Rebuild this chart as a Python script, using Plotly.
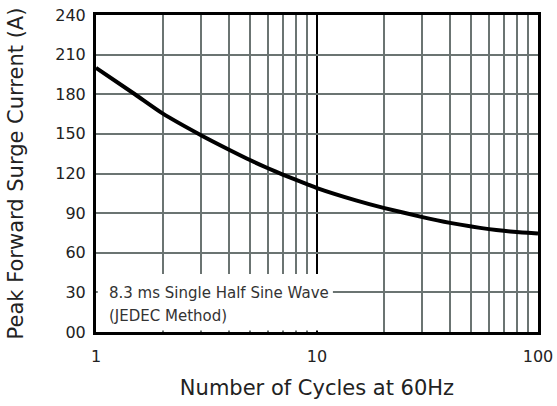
import plotly.graph_objects as go

# Data
cycles = [1, 1.5, 2, 3, 4, 5, 6, 7, 8, 9, 10, 15, 20, 30, 40, 50, 60, 70, 80, 90, 100]
current = [200, 180, 165.5, 148.8, 138, 130, 124, 119.2, 115.3, 112, 109, 99.7, 94,
           87, 82.6, 79.8, 77.9, 76.6, 75.7, 75.1, 74.6]

x_tickvals = [1, 10, 100]
x_ticktext = ["1", "10", "100"]
x_minor = [2, 3, 4, 5, 6, 7, 8, 9, 20, 30, 40, 50, 60, 70, 80, 90]
y_tickvals = [0, 30, 60, 90, 120, 150, 180, 210, 240]
y_ticktext = ["00", "30", "60", "90", "120", "150", "180", "210", "240"]

note_lines = ["8.3 ms Single Half Sine Wave", "(JEDEC Method)"]

FONT = "DejaVu Sans"
GRID = "#6b7472"
TXT = "#222222"

fig = go.Figure()
fig.add_trace(go.Scatter(
    x=cycles, y=current, mode="lines",
    line=dict(color="black", width=4, shape="spline", smoothing=0.6),
    hoverinfo="skip", showlegend=False,
))

fig.update_layout(
    width=557, height=406,
    margin=dict(l=96, r=19, t=15, b=74),
    paper_bgcolor="white", plot_bgcolor="white",
    font=dict(family=FONT, color=TXT),
    xaxis=dict(
        type="log", range=[0, 2], automargin=False,
        tickmode="array", tickvals=x_tickvals, ticktext=x_ticktext,
        ticks="", ticklabelstandoff=8, ticklabeloverflow="allow",
        tickfont=dict(size=16, family=FONT, color=TXT),
        showgrid=True, gridcolor="black", gridwidth=1.7,
        minor=dict(tickmode="array", tickvals=x_minor, showgrid=True,
                   gridcolor=GRID, gridwidth=1.7, ticks=""),
        showline=True, linecolor="black", linewidth=3, mirror=True,
        zeroline=False,
        title=dict(text="Number of Cycles at 60Hz", font=dict(size=21, family=FONT, color=TXT),
                   standoff=16),
    ),
    yaxis=dict(
        range=[0, 240], automargin=False,
        tickmode="array", tickvals=y_tickvals, ticktext=y_ticktext,
        ticks="", ticklabelstandoff=4, ticklabeloverflow="allow",
        tickfont=dict(size=16, family=FONT, color=TXT),
        showgrid=True, gridcolor=GRID, gridwidth=1.7,
        showline=True, linecolor="black", linewidth=3, mirror=True,
        zeroline=False,
        title=dict(text="Peak Forward Surge Current (A)", font=dict(size=21, family=FONT, color=TXT),
                   standoff=26),
    ),
)

# White background behind the note (inset so the frame stays visible)
fig.add_shape(type="rect", xref="paper", yref="y", x0=0.004, x1=0.536, y0=1.2, y1=44,
              fillcolor="white", line=dict(width=0), layer="above")

fig.add_annotation(xref="paper", yref="y", x=0.026, y=29.5, text=note_lines[0],
                   showarrow=False, xanchor="left", yanchor="middle",
                   font=dict(size=15, family=FONT, color="#333333"))
fig.add_annotation(xref="paper", yref="y", x=0.026, y=12.1, text=note_lines[1],
                   showarrow=False, xanchor="left", yanchor="middle",
                   font=dict(size=15, family=FONT, color="#333333"))

# Remove the browser's default page margin so the figure sits at the window origin
fig.write_html("out.html", config={"displayModeBar": False},
               post_script="document.body.style.margin='0';")
